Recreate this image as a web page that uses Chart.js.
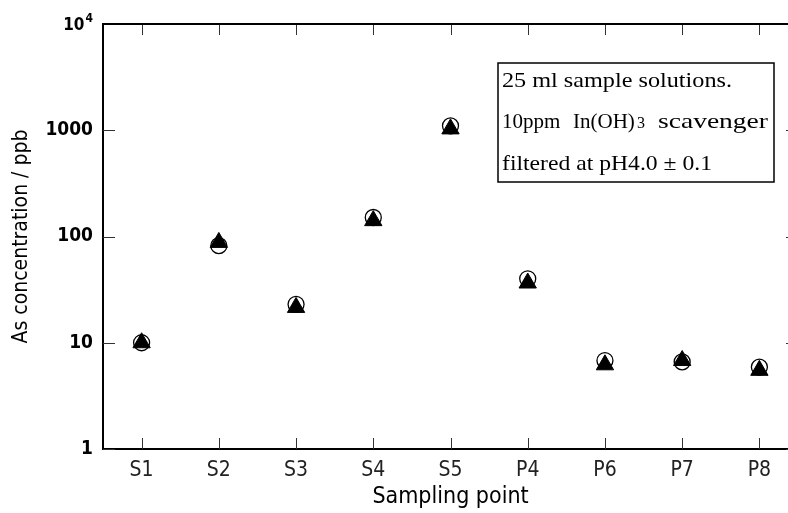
<!DOCTYPE html>
<html>
<head>
<meta charset="utf-8">
<script src="https://cdn.jsdelivr.net/npm/chart.js@4"></script>
<style>
  html, body { margin: 0; padding: 0; background: #fff; overflow: hidden; }
  #wrap { width: 810px; height: 513px; }
</style>
</head>
<body>
<div id="wrap"><canvas id="asChart" width="810" height="513"></canvas></div>
<script>
// As concentration per sampling point (ppb)
const samplingPoints = ['S1', 'S2', 'S3', 'S4', 'S5', 'P4', 'P6', 'P7', 'P8'];
const circleValues   = [10, 82, 23, 151, 1100, 40, 6.8, 6.6, 5.9];
const triangleValues = [10, 88, 21.5, 141, 1030, 36.5, 6.2, 6.8, 5.5];
const yTickValues    = [1, 10, 100, 1000, 10000];
const noteLines = ['25 ml sample solutions.', '10ppm  In(OH)3  scavenger', 'filtered at pH4.0 \u00b1 0.1'];

const SANS = '"DejaVu Sans Condensed", "Liberation Sans Narrow", "DejaVu Sans", sans-serif';
const SERIF = '"Liberation Serif", "DejaVu Serif", serif';

// closes the box on top/right and draws inward tick marks on all four sides
const frameTicks = {
    id: 'frameTicks',
    beforeDatasetsDraw(chart) {
        const { ctx, chartArea: a, scales: { x, y } } = chart;
        ctx.save();
        ctx.strokeStyle = '#333';
        ctx.lineWidth = 1;
        ctx.beginPath();
        x.ticks.forEach((t, i) => {
            const px = Math.round(x.getPixelForTick(i)) + 0.5;
            ctx.moveTo(px, a.bottom); ctx.lineTo(px, a.bottom - 11);
            ctx.moveTo(px, a.top); ctx.lineTo(px, a.top + 11);
        });
        yTickValues.forEach(v => {
            const py = Math.round(y.getPixelForValue(v)) + 0.5;
            ctx.moveTo(a.left, py); ctx.lineTo(a.left + 12, py);
            ctx.moveTo(a.right, py); ctx.lineTo(a.right - 12, py);
        });
        ctx.stroke();
        ctx.strokeStyle = '#000';
        ctx.lineWidth = 2;
        ctx.beginPath();
        ctx.moveTo(a.left - 1, a.top);
        ctx.lineTo(a.right, a.top);
        ctx.lineTo(a.right, a.bottom);
        ctx.stroke();

        // 10^4 label with a raised exponent
        const py = y.getPixelForValue(10000);
        ctx.fillStyle = '#000';
        ctx.textBaseline = 'middle';
        ctx.textAlign = 'right';
        ctx.font = 'bold 12px ' + SANS;
        ctx.fillText('4', a.left - 10, py - 5);
        const ew = ctx.measureText('4').width;
        ctx.font = 'bold 17px ' + SANS;
        ctx.fillText('10', a.left - 11 - ew, py + 2);
        ctx.restore();
    }
};

// draws text stretched horizontally to a given width
function fitText(ctx, text, x, y, width) {
    const natural = ctx.measureText(text).width;
    const sx = width / natural;
    ctx.save();
    ctx.translate(x, y);
    ctx.scale(sx, 1);
    ctx.fillText(text, 0, 0);
    ctx.restore();
}

// boxed note with the sample conditions
const noteBox = {
    id: 'noteBox',
    afterDraw(chart) {
        const ctx = chart.ctx;
        const bx = 498, by = 63, bw = 276, bh = 119;
        ctx.save();
        ctx.strokeStyle = '#000';
        ctx.lineWidth = 1.5;
        ctx.strokeRect(bx, by, bw, bh);
        ctx.fillStyle = '#000';
        ctx.textBaseline = 'alphabetic';
        ctx.textAlign = 'left';
        ctx.font = '21px ' + SERIF;
        fitText(ctx, noteLines[0], bx + 4, by + 24, 230);
        // second line: small "3" after In(OH)
        ctx.fillText('10ppm', bx + 4, by + 65);
        ctx.fillText('In(OH)', bx + 75, by + 65);
        ctx.font = '16px ' + SERIF;
        ctx.fillText('3', bx + 139, by + 65);
        ctx.font = '21px ' + SERIF;
        fitText(ctx, 'scavenger', bx + 160, by + 65, 110);
        fitText(ctx, noteLines[2], bx + 4, by + 107, 210);
        ctx.restore();
    }
};

new Chart(document.getElementById('asChart'), {
    type: 'line',
    data: {
        labels: samplingPoints,
        datasets: [{
            label: 'triangle',
            data: triangleValues,
            order: 0,
            showLine: false,
            pointStyle: 'triangle',
            pointRadius: 10,
            pointBackgroundColor: '#000',
            pointBorderColor: '#000',
            pointBorderWidth: 1
        }, {
            label: 'circle',
            data: circleValues,
            order: 1,
            showLine: false,
            pointStyle: 'circle',
            pointRadius: 8,
            pointBackgroundColor: '#fff',
            pointBorderColor: '#000',
            pointBorderWidth: 1.3
        }]
    },
    options: {
        responsive: false,
        animation: false,
        devicePixelRatio: 1,
        layout: { padding: { top: 24, right: 12, left: 0, bottom: 0 } },
        plugins: { legend: { display: false }, tooltip: { enabled: false } },
        scales: {
            x: {
                offset: true,
                grid: { display: false, drawTicks: false },
                border: { display: true, color: '#000', width: 2 },
                ticks: { color: '#222', font: { family: SANS, size: 21 }, padding: 9, maxRotation: 0 },
                title: { display: true, text: 'Sampling point', color: '#000', font: { family: SANS, size: 23 }, padding: { top: 0, bottom: 2 } },
                afterFit: s => { s.height = 64; }
            },
            y: {
                type: 'logarithmic',
                min: 1,
                max: 10000,
                afterBuildTicks: s => { s.ticks = yTickValues.map(v => ({ value: v })); },
                grid: { display: false, drawTicks: false },
                border: { display: true, color: '#000', width: 2 },
                ticks: {
                    color: '#000',
                    font: { family: SANS, size: 19, weight: 'bold' },
                    padding: 10,
                    callback: v => v === 10000 ? '' : String(v)
                },
                title: { display: true, text: 'As concentration / ppb', color: '#000', font: { family: SANS, size: 21 }, padding: { top: 9, bottom: 0 } },
                afterFit: s => { s.width = 103; }
            }
        }
    },
    plugins: [frameTicks, noteBox]
});
</script>
</body>
</html>
